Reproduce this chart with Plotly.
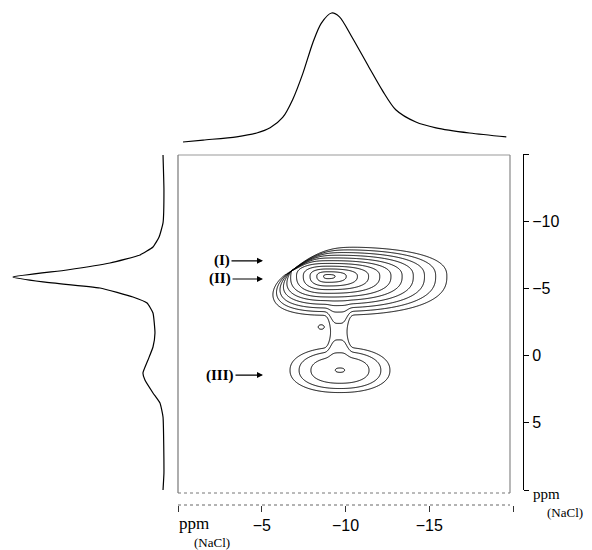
import numpy as np
import plotly.graph_objects as go

W, H = 592, 550

# ---------------- data ----------------
# F2 projection (top trace): ppm, relative intensity
f2_ppm = [-0.3, -1.5, -3.5, -4.7, -5.5, -6.25, -6.85, -7.45, -8.05, -8.55, -9.17,
          -9.64, -10.4, -11.4, -12.2, -13.0, -14.2, -15.4, -17.4, -19.6]
f2_int = [0.0, 0.015, 0.04, 0.07, 0.11, 0.19, 0.33, 0.53, 0.77, 0.92, 1.0,
          0.97, 0.81, 0.58, 0.40, 0.25, 0.155, 0.11, 0.07, 0.04]

# F1 projection (left trace): ppm, relative intensity
f1_ppm = [-14.93, -12.32, -9.87, -8.82, -8.08, -7.49, -6.89, -6.37, -5.85, -5.48,
          -5.03, -4.36, -3.91, -3.17, -1.68, -0.64, 0.33, 1.29, 1.82, 2.78,
          3.53, 4.57, 8.74, 10.0]
f1_int = [0.013, 0.007, 0.013, 0.039, 0.079, 0.164, 0.362, 0.645, 1.0, 0.803,
          0.428, 0.211, 0.118, 0.079, 0.066, 0.079, 0.112, 0.145, 0.132, 0.079,
          0.033, 0.013, 0.007, 0.013]

# 2D peaks (centre, half-extents to left/right/up/down at lowest level, shape)
peak_names = ["I/II", "III", "bridge", "island"]
peak_x = [-8.95, -9.67, -9.6, -8.55]
peak_y = [-5.9, 1.1, -1.9, -2.12]
peak_amp = [1.0, 0.037, 0.0115, 0.012]
peak_w_left = [4.3, 2.98, 0.38, 0.14]
peak_w_right = [7.1, 2.98, 0.38, 0.14]
peak_w_up = [2.2, 1.7, 1.2, 0.13]
peak_w_down = [2.9, 1.65, 1.2, 0.13]
peak_p = [2.5, 2.2, 4.0, 2.0]
peak_q = [1.0, 2.0, 4.0, 4.0]
lowest_level = 0.01

# sharp upper-left edge of site I/II: apex and the two rays bounding the peak (ppm)
edge_apex = (-6.75, -6.29)
edge_ray_b = (-9.07, -8.0)
edge_ray_a = (-5.61, -4.43)
edge_soft_deg = [3.0, 12.0]

x_ticks = [0, -5, -10, -15, -20]
x_ticktext = ["", "\u22125", "\u221210", "\u221215", ""]
y_ticks = [-15, -10, -5, 0, 5, 10]
y_ticktext = ["", "\u221210", "\u22125", "0", "5", ""]
site_labels = ["(I)", "(II)", "(III)"]
site_ppm_y = [-7.05, -5.7, 1.45]

# ---------------- geometry ----------------
X0, X1 = 178, 513
Y0, Y1 = 154, 490
xr = [0, -20]
yr = [10, -15]
sx_px = (X1 - X0) / 20.0
sy_px = (Y1 - Y0) / 25.0


def px(x):
    return x / W


def py(y):
    return 1 - y / H


# ---------------- 2D intensity ----------------
gx = np.arange(-3.0, -18.0, -0.04)
gy = np.arange(-10.5, 4.5, 0.04)
GX, GY = np.meshgrid(gx, gy)


def rho(i):
    dx = GX - peak_x[i]
    dy = GY - peak_y[i]
    sx = np.where(dx > 0, peak_w_left[i], peak_w_right[i])
    sy = np.where(dy < 0, peak_w_up[i], peak_w_down[i])
    p = peak_p[i]
    return (np.abs(dx / sx) ** p + np.abs(dy / sy) ** p) ** (1.0 / p)


def screen(x, y):
    return -x * sx_px, y * sy_px


def wrap(a):
    return (a + 180.0) % 360.0 - 180.0


def edge_factor():
    au, av = screen(*edge_apex)
    U, V = screen(GX, GY)
    th = np.degrees(np.arctan2(V - av, U - au))
    bu, bv = screen(*edge_ray_b)
    cu, cv = screen(*edge_ray_a)
    thb = np.degrees(np.arctan2(bv - av, bu - au))
    tha = np.degrees(np.arctan2(cv - av, cu - au))
    mb = wrap(th - thb)
    ma = wrap(tha - th)
    return 1.0 / (1 + np.exp(-mb / edge_soft_deg[0])) / (1 + np.exp(-ma / edge_soft_deg[1]))


I = np.zeros_like(GX)
for i in range(len(peak_names)):
    decay = np.log(peak_amp[i] / lowest_level)
    comp = peak_amp[i] * np.exp(-decay * rho(i) ** peak_q[i])
    if i == 0:
        comp = comp * edge_factor()
    I += comp

Z = np.round(np.log10(np.maximum(I, 1e-6)), 4)

fig = go.Figure()

fig.add_trace(go.Contour(
    x=gx, y=gy, z=Z, xaxis="x", yaxis="y",
    contours=dict(start=-2.0, end=-0.12, size=0.188, coloring="lines"),
    colorscale=[[0, "black"], [1, "black"]],
    line=dict(width=1, smoothing=1.0),
    showscale=False, hoverinfo="skip"))

fig.add_trace(go.Scatter(x=f2_ppm, y=f2_int, xaxis="x2", yaxis="y2", mode="lines",
                         line=dict(color="black", width=1.2, shape="spline", smoothing=0.8),
                         hoverinfo="skip"))
fig.add_trace(go.Scatter(x=f1_int, y=f1_ppm, xaxis="x3", yaxis="y3", mode="lines",
                         line=dict(color="black", width=1.2, shape="spline", smoothing=0.4),
                         hoverinfo="skip"))

xdom = [px(X0), px(X1)]
ydom = [py(Y1), py(Y0)]

axis_font = dict(family="Liberation Sans, Arial, sans-serif", size=16, color="black")

# top projection intensity axis: 0 at y=142, 1 at y=13
t_b, t_t, t0, t1 = 150, 5, 142, 13
tscale = t0 - t1
# left projection intensity axis: 0 at x=165, 1 at x=13
l_l, l_r, l0, l1 = 5, 175, 165, 13
lscale = l0 - l1

fig.update_layout(
    width=W, height=H, margin=dict(l=0, r=0, t=0, b=0),
    paper_bgcolor="white", plot_bgcolor="white", showlegend=False,
    xaxis=dict(domain=xdom, range=xr, anchor="free", position=py(505),
               tickvals=x_ticks, ticktext=x_ticktext, ticks="outside", ticklen=6,
               tickcolor="#333", showline=False, showgrid=False, zeroline=False,
               tickfont=axis_font),
    yaxis=dict(domain=ydom, range=yr, anchor="free", position=px(523), side="right",
               tickvals=y_ticks, ticktext=y_ticktext, ticks="outside", ticklen=5,
               tickcolor="black", showline=True, linecolor="black", linewidth=1,
               showgrid=False, zeroline=False, tickfont=axis_font),
    xaxis2=dict(domain=xdom, range=xr, anchor="y2", visible=False),
    yaxis2=dict(domain=[py(t_b), py(t_t)],
                range=[-(t_b - t0) / tscale, (t0 - t_t) / tscale],
                anchor="x2", visible=False),
    xaxis3=dict(domain=[px(l_l), px(l_r)],
                range=[(l0 - l_l) / lscale, -(l_r - l0) / lscale],
                anchor="y3", visible=False),
    yaxis3=dict(domain=ydom, range=yr, anchor="x3", visible=False),
)

shapes = [
    dict(type="line", xref="paper", yref="paper", x0=px(X0), x1=px(510), y0=py(155), y1=py(155),
         line=dict(color="#999", width=1)),
    dict(type="line", xref="paper", yref="paper", x0=px(X0), x1=px(X0), y0=py(155), y1=py(493),
         line=dict(color="#777", width=1.2)),
    dict(type="line", xref="paper", yref="paper", x0=px(510), x1=px(510), y0=py(155), y1=py(493),
         line=dict(color="#888", width=1.2)),
    dict(type="line", xref="paper", yref="paper", x0=px(X0), x1=px(510), y0=py(493), y1=py(493),
         line=dict(color="#777", width=1, dash="dot")),
    dict(type="line", xref="paper", yref="paper", x0=px(X0), x1=px(510), y0=py(505), y1=py(505),
         line=dict(color="#666", width=1, dash="dot")),
]
fig.update_layout(shapes=shapes)

serif = "Liberation Serif, Times New Roman, serif"
ann = [
    dict(text="ppm", x=px(177), y=py(523), xanchor="left", yanchor="middle",
         font=dict(family=serif, size=17, color="black")),
    dict(text="(NaCl)", x=px(192), y=py(542), xanchor="left", yanchor="middle",
         font=dict(family=serif, size=13, color="black")),
    dict(text="ppm", x=px(531), y=py(494), xanchor="left", yanchor="middle",
         font=dict(family=serif, size=15, color="black")),
    dict(text="(NaCl)", x=px(545), y=py(512), xanchor="left", yanchor="middle",
         font=dict(family=serif, size=13, color="black")),
]
for lab, yv, tcx in zip(site_labels, site_ppm_y, [222, 220, 220]):
    ypx = Y0 + (yv - yr[1]) * sy_px
    ann.append(dict(text="<b>%s</b>" % lab, x=px(263), y=py(ypx), xref="paper", yref="paper",
                    showarrow=True, arrowhead=2, arrowsize=1, arrowwidth=1.2,
                    arrowcolor="black", ax=tcx - 263, ay=0,
                    font=dict(family=serif, size=15, color="black")))
for a in ann:
    a.setdefault("xref", "paper")
    a.setdefault("yref", "paper")
    a.setdefault("showarrow", False)
fig.update_layout(annotations=ann)

fig.write_html("out.html", config={"displayModeBar": False},
               post_script="document.body.style.margin='0px';")
